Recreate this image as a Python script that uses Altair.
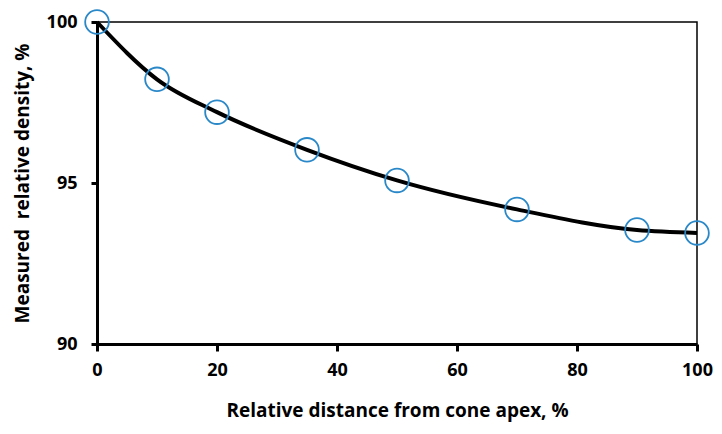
import altair as alt
import pandas as pd

distance = [0, 10, 20, 35, 50, 70, 90, 100]
density = [100.0, 98.22, 97.2, 96.03, 95.08, 94.18, 93.54, 93.45]

df = pd.DataFrame({"x": distance, "y": density})

FONT = "Open Sans"

x_enc = alt.X("x:Q", scale=alt.Scale(domain=[0, 100], nice=False),
              axis=alt.Axis(values=[0, 20, 40, 60, 80, 100], title="Relative distance from cone apex, %",
                            grid=False, domainColor="black", domainWidth=3, tickColor="black",
                            tickWidth=3, tickSize=7, labelPadding=10, labelFontSize=18,
                            labelFontWeight="bold", labelColor="black", labelFont=FONT,
                            labelFlush=False,
                            titleFont=FONT, titleFontSize=19, titleFontWeight="bold",
                            titleColor="black", titlePadding=22))
y_enc = alt.Y("y:Q", scale=alt.Scale(domain=[90, 100], nice=False, zero=False),
              axis=alt.Axis(values=[90, 95, 100], title="Measured\u00a0 relative density, %",
                            grid=False, domainColor="black", domainWidth=3, tickColor="black",
                            tickWidth=3, tickSize=6, labelPadding=14, labelFontSize=18,
                            labelFontWeight="bold", labelColor="black", labelFont=FONT,
                            labelFlush=False,
                            titleFont=FONT, titleFontSize=19, titleFontWeight="bold",
                            titleColor="black", titlePadding=14))

line = alt.Chart(df).mark_line(color="black", strokeWidth=4, interpolate="monotone").encode(x=x_enc, y=y_enc)
pts = alt.Chart(df).mark_point(shape="circle", filled=False, size=560, color="#2a88c8",
                               strokeWidth=1.8, opacity=1).encode(x="x:Q", y="y:Q")

chart = (line + pts).properties(
    width=600, height=322,
    autosize=alt.AutoSizeParams(type="none"),
    padding={"left": 89, "top": 14, "right": 17, "bottom": 82},
).configure_view(stroke="black", strokeWidth=1.5)

chart.save("out.html", embed_options={"renderer": "svg", "actions": False})
